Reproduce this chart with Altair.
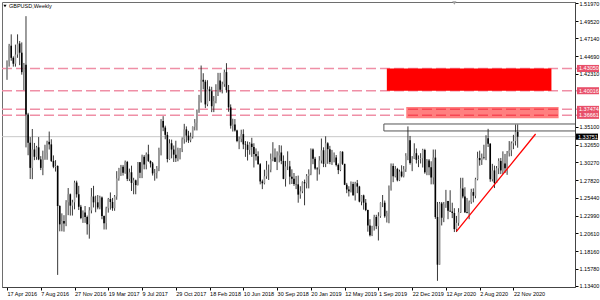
import altair as alt
import pandas as pd

# ---------------- data ----------------
title_text = "GBPUSD,Weekly"
first_open = 1.4200

closes = [
    # 2016 (from 17 Apr)
    1.4400, 1.4615, 1.4450, 1.4370, 1.4495, 1.4645, 1.4520, 1.4255, 1.4357, 1.3679,
    1.3293, 1.2950, 1.3200, 1.3100, 1.3230, 1.3065, 1.2950, 1.3075, 1.3155, 1.3305,
    1.3270, 1.3045, 1.2965, 1.2975, 1.2430, 1.2180, 1.2225, 1.2190, 1.2480, 1.2590,
    1.2435, 1.2480, 1.2750, 1.2590, 1.2420, 1.2265, 1.2340,
    # 2017
    1.2280, 1.2180, 1.2370, 1.2560, 1.2480, 1.2480, 1.2410, 1.2545, 1.2295, 1.2195,
    1.2400, 1.2525, 1.2485, 1.2400, 1.2560, 1.2805, 1.2945, 1.2965, 1.2885, 1.3030,
    1.2800, 1.2890, 1.2745, 1.2780, 1.2715, 1.3025, 1.2885, 1.3100, 1.2995, 1.3135,
    1.3045, 1.3010, 1.2875, 1.2880, 1.2945, 1.3195, 1.3590, 1.3500, 1.3400, 1.3070,
    1.3285, 1.3200, 1.3130, 1.3080, 1.3195, 1.3205, 1.3340, 1.3475, 1.3390, 1.3325,
    1.3375, 1.3510,
    # 2018
    1.3565, 1.3720, 1.3860, 1.4150, 1.4125, 1.3815, 1.4020, 1.3995, 1.3790, 1.3860,
    1.3930, 1.4140, 1.4015, 1.4090, 1.4255, 1.4010, 1.3775, 1.3525, 1.3540, 1.3460,
    1.3315, 1.3345, 1.3410, 1.3270, 1.3265, 1.3195, 1.3280, 1.3235, 1.3140, 1.3110,
    1.3000, 1.2765, 1.2740, 1.2835, 1.2925, 1.2925, 1.3070, 1.3090, 1.3035, 1.3120,
    1.3160, 1.3045, 1.2800, 1.2970, 1.2970, 1.2830, 1.2800, 1.2730, 1.2725, 1.2585,
    1.2630, 1.2755,
    # 2019
    1.2740, 1.2840, 1.2870, 1.3200, 1.3075, 1.2940, 1.2930, 1.3050, 1.3190, 1.3005,
    1.3285, 1.3205, 1.3030, 1.3080, 1.3090, 1.2990, 1.2920, 1.3170, 1.3005, 1.2720,
    1.2655, 1.2630, 1.2730, 1.2575, 1.2740, 1.2695, 1.2490, 1.2575, 1.2475, 1.2375,
    1.2165, 1.2030, 1.2150, 1.2280, 1.2155, 1.2290, 1.2475, 1.2475, 1.2290, 1.2330,
    1.2670, 1.2975, 1.2835, 1.2935, 1.2780, 1.2900, 1.2835, 1.2930, 1.3115, 1.3325,
    1.3015, 1.3075,
    # 2020
    1.3150, 1.3060, 1.3070, 1.3080, 1.3195, 1.2890, 1.3050, 1.2960, 1.2820, 1.3090,
    1.2280, 1.1630, 1.2465, 1.2270, 1.2455, 1.2500, 1.2365, 1.2355, 1.2335, 1.2115,
    1.2200, 1.2345, 1.2670, 1.2560, 1.2345, 1.2335, 1.2485, 1.2620, 1.2570, 1.2795,
    1.3085, 1.3055, 1.3090, 1.3085, 1.3355, 1.3280, 1.2795, 1.2915, 1.2745, 1.2945,
    1.3045, 1.2915, 1.3010, 1.2945, 1.3150, 1.3190, 1.3285, 1.3315, 1.3440, 1.3375,
]

highs = [
    1.4415, 1.4640, 1.4770, 1.4470, 1.4630, 1.4770, 1.4680, 1.4660, 1.4380, 1.5018,
    1.3700, 1.3370, 1.3480, 1.3290, 1.3250, 1.3370, 1.3110, 1.3185, 1.3265, 1.3320,
    1.3445, 1.3340, 1.3120, 1.3055, 1.2985, 1.2440, 1.2330, 1.2305, 1.2510, 1.2675,
    1.2600, 1.2515, 1.2775, 1.2775, 1.2705, 1.2445, 1.2370,
    1.2430, 1.2300, 1.2415, 1.2675, 1.2705, 1.2570, 1.2580, 1.2570, 1.2560, 1.2300,
    1.2420, 1.2540, 1.2615, 1.2540, 1.2580, 1.2905, 1.2950, 1.2990, 1.2990, 1.3050,
    1.3045, 1.2940, 1.2980, 1.2815, 1.2790, 1.3030, 1.3030, 1.3130, 1.3125, 1.3160,
    1.3265, 1.3050, 1.3030, 1.2935, 1.2975, 1.3225, 1.3615, 1.3655, 1.3525, 1.3440,
    1.3340, 1.3335, 1.3255, 1.3320, 1.3225, 1.3220, 1.3365, 1.3550, 1.3515, 1.3455,
    1.3430, 1.3515,
    1.3615, 1.3745, 1.3945, 1.4345, 1.4240, 1.4150, 1.4145, 1.4060, 1.4055, 1.3930,
    1.4090, 1.4245, 1.4245, 1.4125, 1.4290, 1.4377, 1.4080, 1.3815, 1.3620, 1.3615,
    1.3470, 1.3375, 1.3470, 1.3475, 1.3315, 1.3310, 1.3300, 1.3360, 1.3285, 1.3215,
    1.3175, 1.3015, 1.2790, 1.2925, 1.3045, 1.2995, 1.3145, 1.3300, 1.3215, 1.3175,
    1.3260, 1.3255, 1.3120, 1.3045, 1.3175, 1.3045, 1.2930, 1.2880, 1.2840, 1.2845,
    1.2700, 1.2765,
    1.2790, 1.2865, 1.2930, 1.3215, 1.3215, 1.3100, 1.2960, 1.3110, 1.3350, 1.3230,
    1.3380, 1.3300, 1.3250, 1.3195, 1.3160, 1.3125, 1.3010, 1.3175, 1.3175, 1.3005,
    1.2745, 1.2700, 1.2765, 1.2760, 1.2760, 1.2785, 1.2705, 1.2580, 1.2585, 1.2525,
    1.2380, 1.2250, 1.2160, 1.2310, 1.2310, 1.2345, 1.2480, 1.2580, 1.2505, 1.2365,
    1.2710, 1.3010, 1.3010, 1.2975, 1.2950, 1.2925, 1.2985, 1.2975, 1.3150, 1.3515,
    1.3385, 1.3110,
    1.3285, 1.3215, 1.3120, 1.3150, 1.3210, 1.3210, 1.3070, 1.3070, 1.3040, 1.3200,
    1.3200, 1.2485, 1.2485, 1.2485, 1.2485, 1.2650, 1.2500, 1.2645, 1.2475, 1.2400,
    1.2295, 1.2400, 1.2815, 1.2815, 1.2685, 1.2540, 1.2505, 1.2665, 1.2670, 1.2815,
    1.3170, 1.3185, 1.3145, 1.3265, 1.3395, 1.3482, 1.3285, 1.3005, 1.2980, 1.2975,
    1.3080, 1.3085, 1.3175, 1.3140, 1.3180, 1.3315, 1.3310, 1.3400, 1.3540, 1.3540,
]

lows = [
    1.4150, 1.4330, 1.4410, 1.4330, 1.4330, 1.4450, 1.4350, 1.4220, 1.4010, 1.3229,
    1.3122, 1.2798, 1.2795, 1.3055, 1.3060, 1.3055, 1.2920, 1.2850, 1.3060, 1.3060,
    1.3200, 1.3030, 1.2945, 1.2900, 1.1491, 1.2085, 1.2085, 1.2080, 1.2155, 1.2305,
    1.2300, 1.2300, 1.2385, 1.2545, 1.2375, 1.2250, 1.2200,
    1.2200, 1.2040, 1.1985, 1.2330, 1.2410, 1.2345, 1.2385, 1.2385, 1.2250, 1.2110,
    1.2110, 1.2340, 1.2380, 1.2365, 1.2365, 1.2515, 1.2775, 1.2840, 1.2845, 1.2870,
    1.2770, 1.2770, 1.2635, 1.2590, 1.2590, 1.2710, 1.2810, 1.2810, 1.2930, 1.2930,
    1.3030, 1.2955, 1.2845, 1.2775, 1.2805, 1.2905, 1.3120, 1.3450, 1.3340, 1.3025,
    1.3060, 1.3080, 1.3030, 1.3030, 1.3040, 1.3065, 1.3165, 1.3280, 1.3300, 1.3290,
    1.3300, 1.3350,
    1.3460, 1.3460, 1.3700, 1.3840, 1.4020, 1.3765, 1.3790, 1.3860, 1.3710, 1.3710,
    1.3830, 1.3930, 1.3980, 1.3965, 1.4055, 1.3975, 1.3715, 1.3485, 1.3445, 1.3445,
    1.3300, 1.3205, 1.3300, 1.3205, 1.3100, 1.3050, 1.3130, 1.3100, 1.2955, 1.3050,
    1.2995, 1.2725, 1.2660, 1.2725, 1.2800, 1.2785, 1.2890, 1.3040, 1.3030, 1.2920,
    1.3025, 1.3000, 1.2795, 1.2695, 1.2920, 1.2725, 1.2730, 1.2705, 1.2660, 1.2475,
    1.2530, 1.2605,
    1.2440, 1.2670, 1.2670, 1.2850, 1.3000, 1.2925, 1.2775, 1.2860, 1.3010, 1.2960,
    1.2960, 1.3005, 1.3000, 1.2990, 1.3025, 1.2970, 1.2865, 1.2905, 1.2990, 1.2715,
    1.2605, 1.2560, 1.2615, 1.2570, 1.2505, 1.2605, 1.2480, 1.2440, 1.2380, 1.2360,
    1.2080, 1.2015, 1.2020, 1.2095, 1.2115, 1.1960, 1.2270, 1.2415, 1.2270, 1.2205,
    1.2195, 1.2640, 1.2755, 1.2820, 1.2765, 1.2770, 1.2820, 1.2820, 1.2895, 1.3055,
    1.2995, 1.2905,
    1.3070, 1.3010, 1.2960, 1.3010, 1.2955, 1.2870, 1.2850, 1.2850, 1.2725, 1.2725,
    1.2255, 1.1410, 1.1630, 1.2165, 1.2210, 1.2405, 1.2250, 1.2350, 1.2265, 1.2075,
    1.2075, 1.2160, 1.2335, 1.2535, 1.2335, 1.2330, 1.2250, 1.2460, 1.2480, 1.2535,
    1.2780, 1.2980, 1.2990, 1.3065, 1.3055, 1.3235, 1.2760, 1.2765, 1.2675, 1.2765,
    1.2865, 1.2865, 1.2865, 1.2880, 1.2855, 1.3105, 1.3110, 1.3205, 1.3255, 1.3225,
]

date_labels = [
    "17 Apr 2016", "7 Aug 2016", "27 Nov 2016", "19 Mar 2017", "9 Jul 2017",
    "29 Oct 2017", "18 Feb 2018", "10 Jun 2018", "30 Sep 2018", "20 Jan 2019",
    "12 May 2019", "1 Sep 2019", "22 Dec 2019", "12 Apr 2020", "2 Aug 2020",
    "22 Nov 2020",
]
label_weeks = [0, 16, 32, 48, 64, 80, 96, 112, 128, 144, 160, 176, 192, 208, 224, 240]

y_ticks = [1.5197, 1.4952, 1.4714, 1.4469, 1.4231, 1.3510, 1.3265, 1.3027,
           1.2782, 1.2544, 1.2299, 1.2061, 1.1816, 1.1578, 1.1340]

levels = [1.4305, 1.40016, 1.37474, 1.36661]
last_price = [1.33751]

# zones: strong red, light red, outlined box
zone_start = [180.0, 189.2, 178.6]
zone_end = [258.0, 261.4, 272.0]
zone_low = [1.40016, 1.3625, 1.3453]
zone_high = [1.4305, 1.3780, 1.3548]

trend_week = [213.0, 250.5]
trend_price = [1.2085, 1.3412]

shift_week = [212]

# ---------------- tables ----------------
candles = pd.DataFrame({
    "i": list(range(len(closes))),
    "open": [first_open] + closes[:-1],
    "high": highs,
    "low": lows,
    "close": closes,
})
lv = pd.DataFrame({"p": levels})
lp = pd.DataFrame({"p": last_price})
zones = pd.DataFrame({"x1": zone_start, "x2": zone_end, "lo": zone_low, "hi": zone_high})
trend = pd.DataFrame({"w": trend_week, "p": trend_price})
shift = pd.DataFrame({"w": shift_week})
ttl = pd.DataFrame({"t": [title_text]})

FONT = "Liberation Sans"
FS = 5.5

label_arr = "[" + ",".join("'%s'" % s for s in date_labels) + "]"
x_scale = alt.Scale(domain=[0, 266.8], nice=False, zero=False)
y_scale = alt.Scale(domain=[1.1326, 1.5211], nice=False, zero=False)
x_axis = alt.Axis(values=label_weeks, labelExpr=label_arr + "[round(datum.value/16)]",
                  labelAlign="left", labelBaseline="top", labelFlush=False,
                  labelOverlap=False, tickSize=3, labelPadding=1, grid=False,
                  title=None, orient="bottom")
y_axis = alt.Axis(values=y_ticks, format=".5f", orient="right", tickSize=3,
                  labelPadding=1, labelFlush=False, labelOverlap=False,
                  grid=False, title=None, labelBaseline="middle")


def X(f):
    return alt.X(f, type="quantitative", scale=x_scale, axis=x_axis)


def Y(f):
    return alt.Y(f, type="quantitative", scale=y_scale, axis=y_axis)


# dashed levels
level_lines = alt.Chart(lv).mark_rule(color="#ef8fa6", strokeWidth=1.5, strokeDash=[10, 4]).encode(
    y=Y("p"), x=alt.value(0), x2=alt.value(576))

price_line = alt.Chart(lp).mark_rule(color="#c8c8c8", strokeWidth=1).encode(
    y=Y("p"), x=alt.value(0), x2=alt.value(573))

zone_strong = alt.Chart(zones.iloc[[0]]).mark_rect(color="#ff0000").encode(
    x=X("x1"), x2="x2", y=Y("hi"), y2="lo")
zone_light = alt.Chart(zones.iloc[[1]]).mark_rect(color="#ff0000", opacity=0.5).encode(
    x=X("x1"), x2="x2", y=Y("hi"), y2="lo")
zone_box = alt.Chart(zones.iloc[[2]]).mark_rect(fill=None, stroke="#555555", strokeWidth=1,
                                                clip=True).encode(
    x=X("x1"), x2="x2", y=Y("hi"), y2="lo")

wicks = alt.Chart(candles).transform_calculate(
    lo="min(datum.low, datum.open, datum.close)",
    hi="max(datum.high, datum.open, datum.close)",
).mark_rule(color="#222222", strokeWidth=0.9, clip=True).encode(
    x=X("i"), y=Y("lo"), y2="hi")

bodies = alt.Chart(candles).mark_bar(size=1.6, clip=True).encode(
    x=X("i"), y=Y("open"), y2="close",
    color=alt.condition("datum.close >= datum.open", alt.value("#9a9a9a"), alt.value("#000000")))

trend_line = alt.Chart(trend).mark_line(color="#ff0000", strokeWidth=1.3).encode(
    x=X("w"), y=Y("p"))

shift_mark = alt.Chart(shift).mark_point(shape="triangle-down", filled=True, size=18,
                                         color="#a0a0a0", opacity=1).encode(
    x=X("w"), y=alt.value(1))

lv_box = alt.Chart(lv).transform_calculate(
    hi="datum.p + 0.0048", lo="datum.p - 0.0048").mark_rect(color="#e8506a").encode(
    y=Y("hi"), y2="lo", x=alt.value(575), x2=alt.value(597))
lv_text = alt.Chart(lv).mark_text(align="left", baseline="middle", font=FONT, fontSize=FS,
                                  color="white").encode(
    y=Y("p"), x=alt.value(577), text=alt.Text("p:Q", format=".5f"))

lp_box = alt.Chart(lp).transform_calculate(
    hi="datum.p + 0.0042", lo="datum.p - 0.0042").mark_rect(color="#000000").encode(
    y=Y("hi"), y2="lo", x=alt.value(574), x2=alt.value(596))
lp_text = alt.Chart(lp).mark_text(align="left", baseline="middle", font=FONT, fontSize=FS,
                                  color="white").encode(
    y=Y("p"), x=alt.value(576), text=alt.Text("p:Q", format=".5f"))

title_tri = alt.Chart(ttl).mark_point(shape="triangle-down", filled=True, size=10,
                                      color="#000000", opacity=1).encode(
    x=alt.value(3), y=alt.value(4))
title_txt = alt.Chart(ttl).mark_text(align="left", baseline="middle", font=FONT, fontSize=FS,
                                     color="#000000").encode(
    x=alt.value(7), y=alt.value(4), text="t:N")

chart = alt.layer(
    price_line, level_lines, zone_box, wicks, bodies, zone_strong, zone_light,
    trend_line, shift_mark, lv_box, lv_text, lp_box, lp_text, title_tri, title_txt,
).properties(
    width=573, height=285,
    autosize=alt.AutoSizeParams(type="none"),
    padding={"left": 2, "top": 2, "right": 25, "bottom": 13},
    background="white",
).configure_view(
    stroke="#6e6e6e", strokeWidth=1,
).configure_axis(
    labelFont=FONT, labelFontSize=FS, labelColor="#000000",
    tickColor="#000000", domainColor="#444444", domainWidth=1,
)

chart.save("out.html", embed_options={"renderer": "svg", "actions": False})
